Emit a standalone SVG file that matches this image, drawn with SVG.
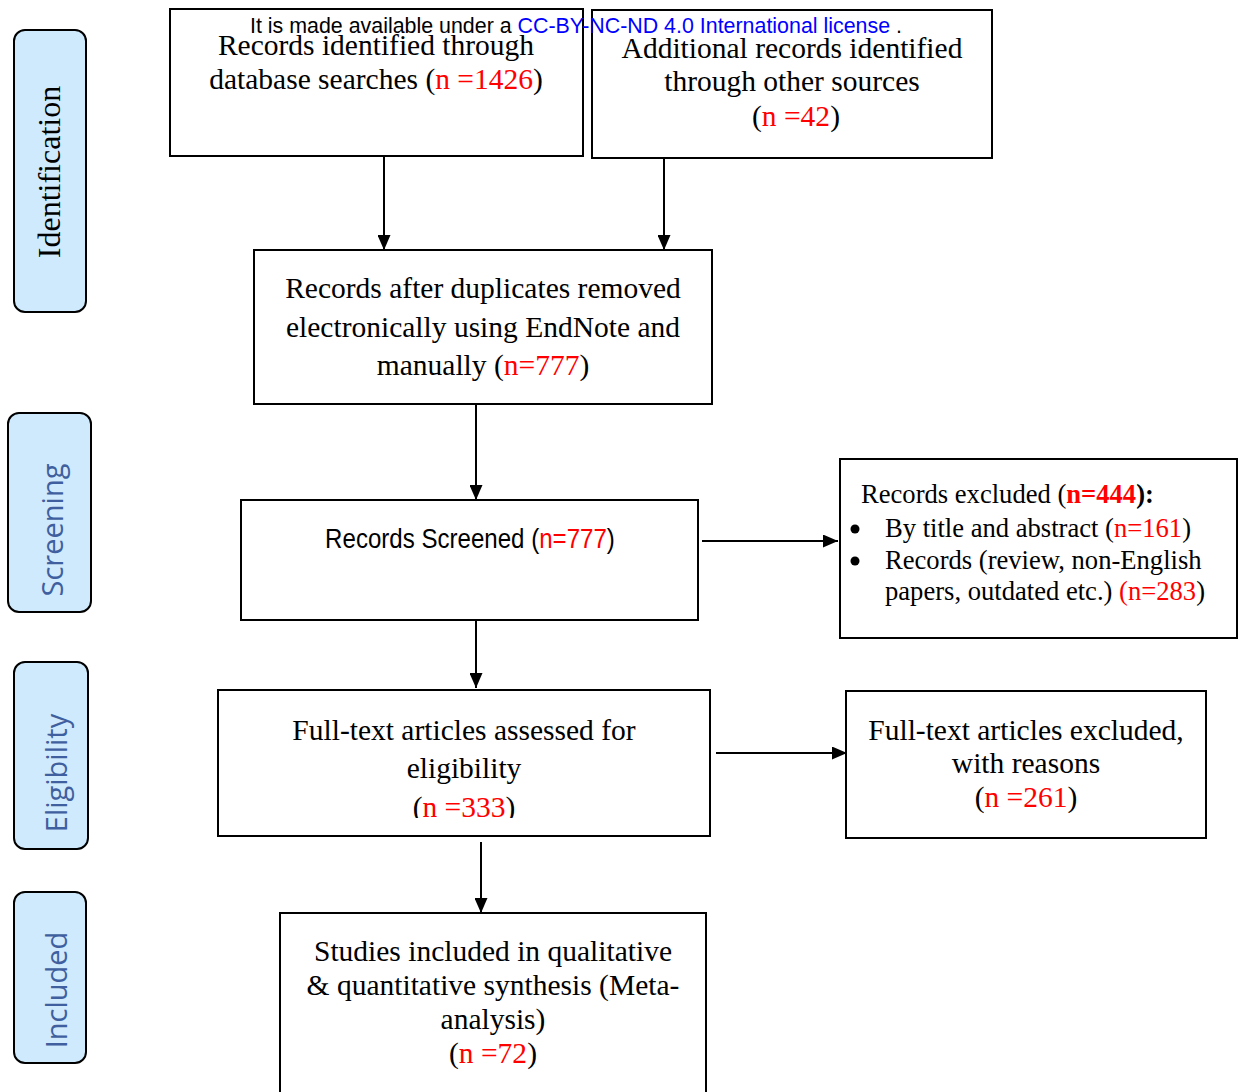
<svg xmlns="http://www.w3.org/2000/svg" width="1242" height="1092" viewBox="0 0 1242 1092">
<style>
.box{fill:#fff;stroke:#000;stroke-width:2}
.side{fill:#cfeafc;stroke:#000;stroke-width:2}
.t{font-family:"Liberation Serif","Times New Roman",serif;font-size:29.5px;fill:#000;text-anchor:middle}
.s{font-family:"Liberation Serif","Times New Roman",serif;font-size:26.6px;fill:#000}
.r{fill:#ff0000}
.lab{font-family:"Open Sans","Noto Sans",sans-serif;font-size:29px;fill:#3f5f9f;text-anchor:middle}
.conn{stroke:#000;stroke-width:2;fill:none;marker-end:url(#ah)}
</style>
<defs>
<marker id="ah" markerWidth="15" markerHeight="13" refX="15" refY="6.5" orient="auto" markerUnits="userSpaceOnUse">
<path d="M0,0 L15,6.5 L0,13 Z" fill="#000"/>
</marker>
<clipPath id="clipF"><rect x="218" y="690" width="492" height="128"/></clipPath>
</defs>
<rect width="1242" height="1092" fill="#fff"/>

<g id="side-identification">
<rect class="side" x="14" y="30" width="72" height="282" rx="11"/>
<text x="0" y="0" transform="translate(60,172) rotate(-90)" style="font-family:'Liberation Serif',serif;font-size:32px;fill:#000;text-anchor:middle">Identification</text>
</g>
<g id="side-screening">
<rect class="side" x="8" y="413" width="83" height="199" rx="11"/>
<text class="lab" transform="translate(63,530) rotate(-90)">Screening</text>
</g>
<g id="side-eligibility">
<rect class="side" x="14" y="662" width="74" height="187" rx="11"/>
<text class="lab" transform="translate(67,773) rotate(-90)">Eligibility</text>
</g>
<g id="side-included">
<rect class="side" x="14" y="892" width="72" height="171" rx="11"/>
<text class="lab" transform="translate(67,990) rotate(-90)">Included</text>
</g>

<g id="connectors">
<line class="conn" x1="384" y1="156" x2="384" y2="250"/>
<line class="conn" x1="664" y1="158" x2="664" y2="250"/>
<line class="conn" x1="476" y1="404" x2="476" y2="500"/>
<line class="conn" x1="702" y1="541" x2="838" y2="541"/>
<line class="conn" x1="476" y1="617" x2="476" y2="688"/>
<line class="conn" x1="716" y1="753" x2="847" y2="753"/>
<line class="conn" x1="481" y1="842" x2="481" y2="913"/>
</g>

<g id="node-database">
<rect class="box" x="170" y="9" width="413" height="147"/>
<text class="t" x="376" y="55">Records identified through</text>
<text class="t" x="376" y="89">database searches (<tspan class="r">n =1426</tspan>)</text>
</g>
<g id="node-other">
<rect class="box" x="592" y="10" width="400" height="148"/>
<text class="t" x="792" y="58">Additional records identified</text>
<text class="t" x="792" y="91">through other sources</text>
<text class="t" x="796" y="126">(<tspan class="r">n =42</tspan>)</text>
</g>
<g id="node-duplicates">
<rect class="box" x="254" y="250" width="458" height="154"/>
<text class="t" x="483" y="298">Records after duplicates removed</text>
<text class="t" x="483" y="337">electronically using EndNote and</text>
<text class="t" x="483" y="375">manually (<tspan class="r">n=777</tspan>)</text>
</g>
<g id="node-screened">
<rect class="box" x="241" y="500" width="457" height="120"/>
<text transform="translate(470,548) scale(0.86,1)" style="font-family:'Liberation Sans',Arial,sans-serif;font-size:28px;text-anchor:middle">Records Screened (<tspan class="r">n=777</tspan>)</text>
</g>
<g id="node-excluded">
<rect class="box" x="840" y="459" width="397" height="179"/>
<text class="s" x="861" y="503">Records excluded (<tspan class="r" font-weight="bold">n=444</tspan><tspan font-weight="bold">):</tspan></text>
<circle cx="855" cy="529" r="4.5" fill="#000"/>
<text class="s" x="885" y="537">By title and abstract (<tspan class="r">n=161</tspan>)</text>
<circle cx="855" cy="561" r="4.5" fill="#000"/>
<text class="s" x="885" y="569">Records (review, non-English</text>
<text class="s" x="885" y="600">papers, outdated etc.) <tspan class="r">(n=283</tspan>)</text>
</g>
<g id="node-fulltext">
<rect class="box" x="218" y="690" width="492" height="146"/>
<text class="t" x="464" y="740">Full-text articles assessed for</text>
<text class="t" x="464" y="778">eligibility</text>
<text class="t" x="464" y="817" clip-path="url(#clipF)">(<tspan class="r">n =333</tspan>)</text>
</g>
<g id="node-ftexcluded">
<rect class="box" x="846" y="691" width="360" height="147"/>
<text class="t" x="1026" y="740">Full-text articles excluded,</text>
<text class="t" x="1026" y="773">with reasons</text>
<text class="t" x="1026" y="807">(<tspan class="r">n =261</tspan>)</text>
</g>
<g id="node-included">
<rect class="box" x="280" y="913" width="426" height="185"/>
<text class="t" x="493" y="961">Studies included in qualitative</text>
<text class="t" x="493" y="995">&amp; quantitative synthesis (Meta-</text>
<text class="t" x="493" y="1029">analysis)</text>
<text class="t" x="493" y="1063">(<tspan class="r">n =72</tspan>)</text>
</g>

<g id="watermark">
<text x="250" y="33" style="font-family:'Liberation Sans',Arial,sans-serif;font-size:21.4px;fill:#000">It is made available under a <tspan fill="#0000ff">CC-BY-NC-ND 4.0 International license</tspan> .</text>
</g>
</svg>
